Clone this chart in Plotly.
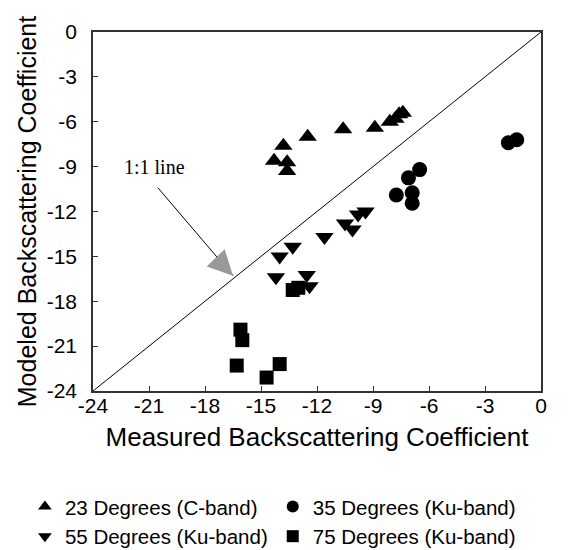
import plotly.graph_objects as go

# 23 Degrees (C-band)
c23_x = [-14.3, -13.8, -13.6, -13.6, -12.5, -10.6, -8.9, -8.1, -7.8, -7.6, -7.4]
c23_y = [-8.6, -7.6, -8.7, -9.3, -7.0, -6.5, -6.4, -6.0, -5.8, -5.5, -5.4]
# 35 Degrees (Ku-band)
k35_x = [-1.75, -1.3, -6.5, -7.1, -7.75, -6.9, -6.9]
k35_y = [-7.4, -7.2, -9.2, -9.75, -10.9, -10.75, -11.45]
# 55 Degrees (Ku-band)
k55_x = [-9.4, -9.8, -10.5, -10.1, -11.6, -13.3, -14.0, -14.2, -12.55, -12.4]
k55_y = [-12.0, -12.2, -12.8, -13.2, -13.7, -14.35, -15.0, -16.4, -16.25, -17.0]
# 75 Degrees (Ku-band)
k75_x = [-13.3, -13.0, -16.1, -16.0, -16.3, -14.0, -14.7]
k75_y = [-17.25, -17.1, -19.9, -20.6, -22.3, -22.2, -23.1]

line_1to1 = [-24, 0]
tick_vals = [-24, -21, -18, -15, -12, -9, -6, -3, 0]
tick_text = [str(v) for v in tick_vals]

series = [
    ("23 Degrees (C-band)", c23_x, c23_y, "triangle-up", 16),
    ("35 Degrees (Ku-band)", k35_x, k35_y, "circle", 15),
    ("55 Degrees (Ku-band)", k55_x, k55_y, "triangle-down", 16),
    ("75 Degrees (Ku-band)", k75_x, k75_y, "square", 14),
]

fig = go.Figure()
fig.add_trace(go.Scatter(x=line_1to1, y=line_1to1, mode="lines",
                         line=dict(color="black", width=1), showlegend=False,
                         hoverinfo="skip"))
for name, xs, ys, sym, sz in series:
    fig.add_trace(go.Scatter(x=xs, y=ys, mode="markers", name=name,
                             marker=dict(symbol=sym, size=sz, color="black",
                                         line=dict(width=0))))

font_sans = "Arial, Liberation Sans, sans-serif"
axis_common = dict(range=[-24, 0], tickvals=tick_vals, ticktext=tick_text,
                   ticks="inside", ticklen=5, tickwidth=1, tickcolor="#333",
                   showline=True, linecolor="#333", linewidth=1.5, mirror=True,
                   showgrid=False, zeroline=False, automargin=False,
                   tickfont=dict(family=font_sans, size=21, color="black"))

# the page body adds an 8px offset, so the figure is sized 8px smaller
fig.update_layout(
    width=570, height=542,
    margin=dict(l=85, r=37, t=24, b=159, autoexpand=False),
    paper_bgcolor="white", plot_bgcolor="white",
    xaxis=dict(**axis_common, ticklabelstandoff=-5,
               title=dict(text="Measured Backscattering Coefficient",
                          font=dict(family=font_sans, size=26, color="black"),
                          standoff=12)),
    yaxis=dict(**axis_common, ticklabelstandoff=10,
               title=dict(text="Modeled Backscattering Coefficient",
                          font=dict(family=font_sans, size=25, color="black"),
                          standoff=3)),
    showlegend=True,
    legend=dict(orientation="h", x=-0.152, xanchor="left", y=-0.2666, yanchor="top",
                font=dict(family=font_sans, size=20.5, color="black"),
                itemsizing="constant", bgcolor="rgba(0,0,0,0)"),
)

# 1:1 line label and arrow
fig.add_annotation(x=-20.7, y=-9.0, xref="x", yref="y", text="1:1 line",
                   showarrow=False,
                   font=dict(family="Liberation Serif, Times New Roman, serif",
                             size=20, color="black"))
fig.add_annotation(x=-16.5, y=-16.3, xref="x", yref="y", text="",
                   showarrow=True, axref="x", ayref="y", ax=-20.6, ay=-10.3,
                   arrowhead=0, arrowwidth=1, arrowcolor="black")
fig.add_annotation(x=-16.5, y=-16.3, xref="x", yref="y", text="",
                   showarrow=True, axref="x", ayref="y", ax=-17.5, ay=-15.0,
                   arrowhead=2, arrowsize=5, arrowwidth=1, arrowcolor="#999")

fig.write_html("out.html")
